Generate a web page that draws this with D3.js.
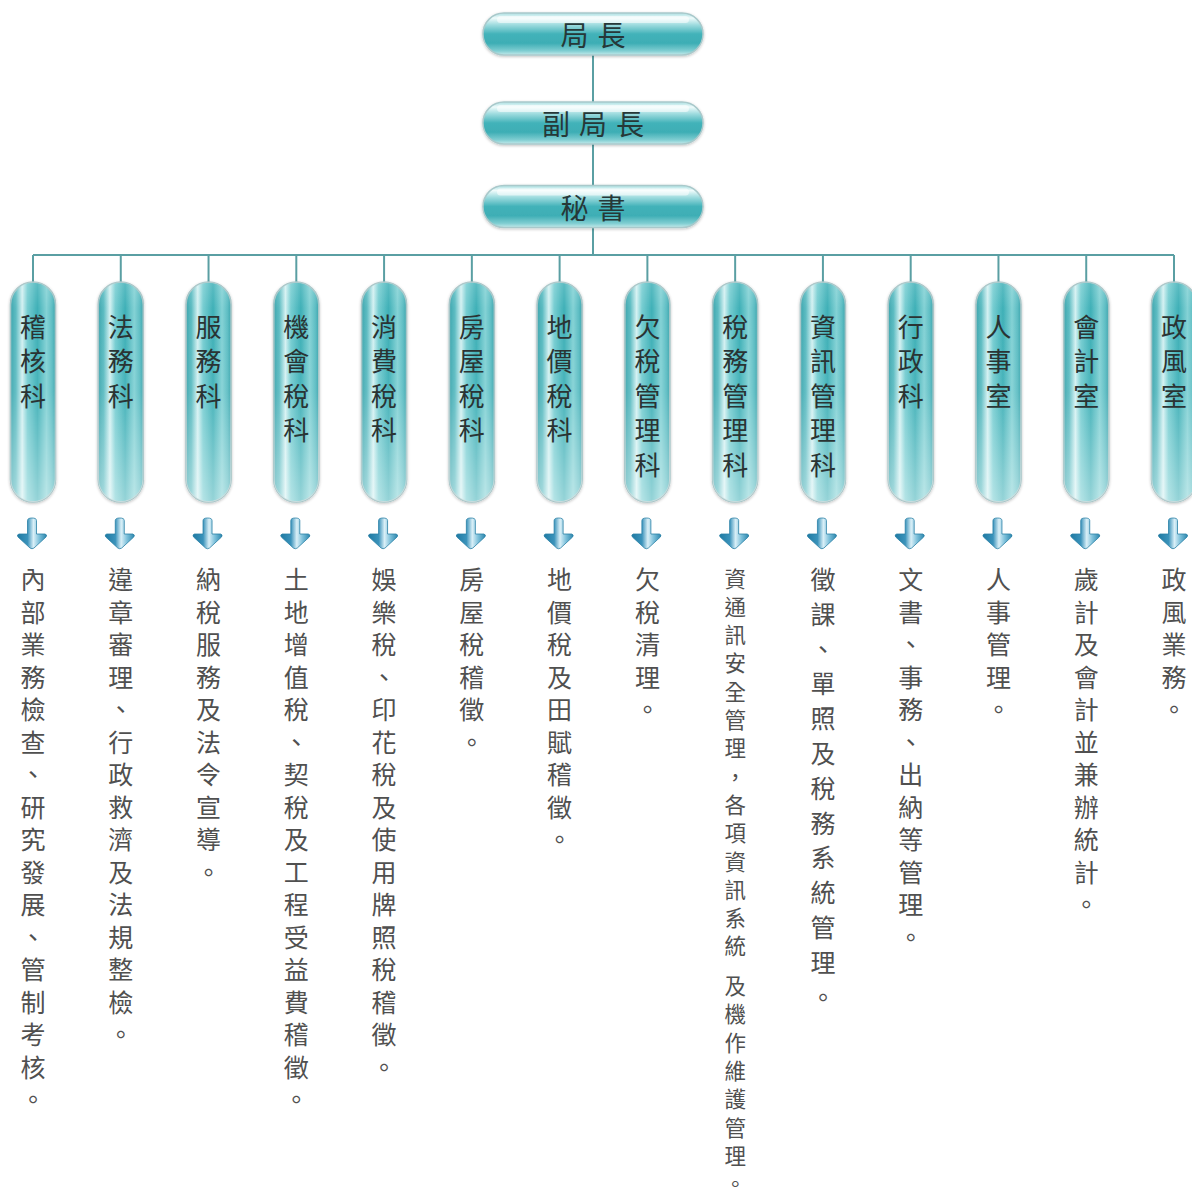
<!DOCTYPE html>
<html>
<head>
<meta charset="utf-8">
<script src="https://cdn.jsdelivr.net/npm/d3@7"></script>
<style>
  html, body { margin: 0; padding: 0; background: #ffffff; }
  svg { display: block; }
</style>
</head>
<body>
<svg id="chart" width="1192" height="1200"></svg>
<script>
// ---------------- data ----------------
const leaders = ["局長", "副局長", "秘書"];
const units = ["稽核科", "法務科", "服務科", "機會稅科", "消費稅科", "房屋稅科", "地價稅科",
               "欠稅管理科", "稅務管理科", "資訊管理科", "行政科", "人事室", "會計室", "政風室"];
const duties = [
  "內部業務檢查、研究發展、管制考核。",
  "違章審理、行政救濟及法規整檢。",
  "納稅服務及法令宣導。",
  "土地增值稅、契稅及工程受益費稽徵。",
  "娛樂稅、印花稅及使用牌照稅稽徵。",
  "房屋稅稽徵。",
  "地價稅及田賦稽徵。",
  "欠稅清理。",
  "資通訊安全管理，各項資訊系統 及機作維護管理。",
  "徵課、單照及稅務系統管理。",
  "文書、事務、出納等管理。",
  "人事管理。",
  "歲計及會計並兼辦統計。",
  "政風業務。"
];

// ---------------- layout ----------------
const svg = d3.select("#chart");
const FONT = "'Noto Sans CJK TC', 'Noto Sans CJK SC', sans-serif";

const x = d3.scalePoint().domain(units).range([33, 1174]);
const yLead = d3.scaleOrdinal().domain(leaders).range([34, 123, 206.5]);
const leadW = 220, leadH = 42, leadCx = 593;
const pillW = 45, pillTop = 282, pillBottom = 502;
const pillTextTop = 325, pillTextStep = 34.5, pillTextSize = 26;
const busY = 255;
const lineColor = "#5a9fa3";
// per-column layout of the vertical duty text (character pitch, font size, first glyph centre)
const dutyLayout = {
  "稅務管理科": { step: 28.3, size: 21.5, top: 577 },
  "資訊管理科": { step: 34.8, size: 25, top: 578 }
};
const defaultLayout = { step: 32.5, size: 25, top: 578 };

// ---------------- defs ----------------
const defs = svg.append("defs");

const gLead = defs.append("linearGradient").attr("id", "gLead")
  .attr("x1", 0).attr("y1", 0).attr("x2", 0).attr("y2", 1);
[[0, "#a9dfe1"], [0.12, "#effbfb"], [0.28, "#9fdcdf"], [0.5, "#42b2b9"],
 [0.72, "#3eaeb5"], [0.9, "#7fcdd1"], [1, "#c4eaeb"]]
  .forEach(([o, c]) => gLead.append("stop").attr("offset", o).attr("stop-color", c));

const gPill = defs.append("linearGradient").attr("id", "gPill")
  .attr("x1", 0).attr("y1", 0).attr("x2", 1).attr("y2", 0);
[[0, "#3ea6ae"], [0.12, "#5dbcc2"], [0.26, "#d4f1f2"], [0.38, "#76cdd1"],
 [0.6, "#3fb0b7"], [0.8, "#84d2d5"], [0.92, "#5fbec4"], [1, "#3ea6ae"]]
  .forEach(([o, c]) => gPill.append("stop").attr("offset", o).attr("stop-color", c));

const gPillV = defs.append("linearGradient").attr("id", "gPillV")
  .attr("x1", 0).attr("y1", 0).attr("x2", 0).attr("y2", 1);
[[0, "#ffffff", 0.15], [0.12, "#ffffff", 0.0], [0.5, "#ffffff", 0.05], [1, "#ffffff", 0.45]]
  .forEach(([o, c, a]) => gPillV.append("stop").attr("offset", o).attr("stop-color", c).attr("stop-opacity", a));

const gArrow = defs.append("linearGradient").attr("id", "gArrow")
  .attr("x1", 0).attr("y1", 0).attr("x2", 1).attr("y2", 0);
[[0, "#1f7aa3"], [0.35, "#3b93bb"], [0.55, "#d9eff7"], [0.75, "#7cc0da"], [1, "#2c86ad"]]
  .forEach(([o, c]) => gArrow.append("stop").attr("offset", o).attr("stop-color", c));

const shadow = defs.append("filter").attr("id", "soft").attr("x", -0.3).attr("y", -0.3)
  .attr("width", 1.6).attr("height", 1.6);
shadow.append("feGaussianBlur").attr("in", "SourceAlpha").attr("stdDeviation", 1.5).attr("result", "b");
shadow.append("feOffset").attr("in", "b").attr("dx", 0).attr("dy", 1).attr("result", "o");
shadow.append("feComponentTransfer").attr("in", "o").attr("result", "o2")
  .append("feFuncA").attr("type", "linear").attr("slope", 0.25);
const fm = shadow.append("feMerge");
fm.append("feMergeNode").attr("in", "o2");
fm.append("feMergeNode").attr("in", "SourceGraphic");

// ---------------- connector lines ----------------
const lines = svg.append("g").attr("stroke", lineColor).attr("stroke-width", 2).attr("fill", "none");
for (let i = 0; i < leaders.length - 1; i++) {
  lines.append("line")
    .attr("x1", leadCx).attr("x2", leadCx)
    .attr("y1", yLead(leaders[i]) + leadH / 2).attr("y2", yLead(leaders[i + 1]) - leadH / 2);
}
lines.append("line").attr("x1", leadCx).attr("x2", leadCx)
  .attr("y1", yLead(leaders[leaders.length - 1]) + leadH / 2).attr("y2", busY);
lines.append("line").attr("x1", x(units[0])).attr("x2", x(units[units.length - 1]))
  .attr("y1", busY).attr("y2", busY);
lines.selectAll("line.stub").data(units).join("line").attr("class", "stub")
  .attr("x1", d => x(d)).attr("x2", d => x(d)).attr("y1", busY).attr("y2", pillTop + 2);

// ---------------- leader boxes ----------------
const lead = svg.append("g").selectAll("g").data(leaders).join("g")
  .attr("transform", d => `translate(${leadCx},${yLead(d)})`);
lead.append("rect")
  .attr("x", -leadW / 2).attr("y", -leadH / 2).attr("width", leadW).attr("height", leadH)
  .attr("rx", leadH / 2).attr("fill", "url(#gLead)")
  .attr("stroke", "#a9c9cb").attr("stroke-width", 1.5).attr("filter", "url(#soft)");
lead.append("rect")
  .attr("x", -leadW / 2 + 14).attr("y", -leadH / 2 + 3).attr("width", leadW - 28).attr("height", 7)
  .attr("rx", 3.5).attr("fill", "#ffffff").attr("opacity", 0.55);
lead.each(function (d) {
  const chars = Array.from(d);
  const n = chars.length, sp = 37;
  d3.select(this).selectAll("text").data(chars).join("text")
    .attr("x", (c, i) => (i - (n - 1) / 2) * sp)
    .attr("y", 0)
    .attr("text-anchor", "middle").attr("dominant-baseline", "central")
    .attr("font-family", FONT).attr("font-size", 28).attr("fill", "#263838")
    .text(c => c);
});

// ---------------- unit pills ----------------
const unit = svg.append("g").selectAll("g").data(units).join("g")
  .attr("transform", d => `translate(${x(d)},0)`);
unit.append("rect")
  .attr("x", -pillW / 2).attr("y", pillTop).attr("width", pillW).attr("height", pillBottom - pillTop)
  .attr("rx", pillW / 2).attr("fill", "url(#gPill)")
  .attr("stroke", "#a8c6c8").attr("stroke-width", 1.6).attr("filter", "url(#soft)");
unit.append("rect")
  .attr("x", -pillW / 2).attr("y", pillTop).attr("width", pillW).attr("height", pillBottom - pillTop)
  .attr("rx", pillW / 2).attr("fill", "url(#gPillV)");
unit.each(function (d) {
  d3.select(this).selectAll("text").data(Array.from(d)).join("text")
    .attr("x", 0).attr("y", (c, i) => pillTextTop + i * pillTextStep)
    .attr("text-anchor", "middle").attr("dominant-baseline", "central")
    .attr("font-family", FONT).attr("font-size", pillTextSize).attr("fill", "#2a3434")
    .text(c => c);
});

// ---------------- arrows ----------------
const arrowPath = "M -4.5,1.5 Q -4.5,-1 0,-1 Q 4.5,-1 4.5,1.5 L 4.5,15 L 13,15 Q 15.5,15.5 14,18 " +
                  "L 2,29 Q 0,30.5 -2,29 L -14,18 Q -15.5,15.5 -13,15 L -4.5,15 Z";
unit.append("path")
  .attr("d", arrowPath)
  .attr("transform", "translate(-1,519)")
  .attr("fill", "url(#gArrow)")
  .attr("stroke", "#2a80a6").attr("stroke-width", 0.8);

// ---------------- duty text (vertical, one glyph per cell) ----------------
const duty = svg.append("g").selectAll("g").data(units).join("g")
  .attr("transform", d => `translate(${x(d)},0)`);
duty.each(function (d, k) {
  const L = dutyLayout[d] || defaultLayout;
  const items = [];
  let pos = 0;
  Array.from(duties[k]).forEach(c => {
    if (c === " ") { pos += 0.4; return; }
    items.push({ c, y: L.top + pos * L.step });
    pos += 1;
  });
  d3.select(this).selectAll("text").data(items).join("text")
    .attr("x", 0)
    .attr("y", it => it.y)
    .attr("text-anchor", "middle").attr("dominant-baseline", "central")
    .attr("font-family", FONT).attr("font-size", L.size).attr("fill", "#505050")
    .text(it => it.c);
});
</script>
</body>
</html>
